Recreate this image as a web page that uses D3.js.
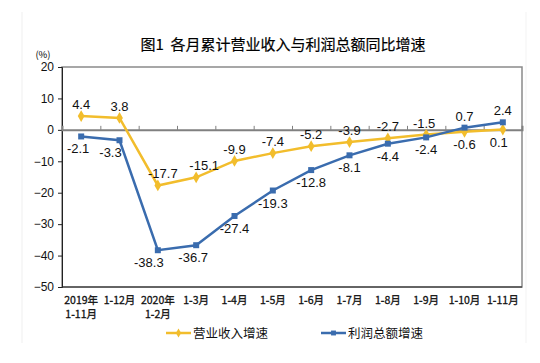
<!DOCTYPE html>
<html>
<head>
<meta charset="utf-8">
<script src="https://cdn.jsdelivr.net/npm/d3@7"></script>
<style>
  body { margin: 0; background: #fff; }
  svg { display: block; }
</style>
</head>
<body>
<div id="chart"></div>
<script>
// data
const months = ["2019年\n1-11月", "1-12月", "2020年\n1-2月", "1-3月", "1-4月", "1-5月",
  "1-6月", "1-7月", "1-8月", "1-9月", "1-10月", "1-11月"];
const revenue = [4.4, 3.8, -17.7, -15.1, -9.9, -7.4, -5.2, -3.9, -2.7, -1.5, -0.6, 0.1];
const profit = [-2.1, -3.3, -38.3, -36.7, -27.4, -19.3, -12.8, -8.1, -4.4, -2.4, 0.7, 2.4];
const yTicks = [20, 10, 0, -10, -20, -30, -40, -50];
// where the value labels go (1 = above the point, -1 = below) and small sideways nudges
const revenueSide = [1, 1, 1, 1, 1, 1, 1, 1, 1, 1, -1, -1];
const profitSide = [-1, -1, -1, -1, -1, -1, -1, -1, -1, -1, 1, 1];
const revenueDx = [0, 0, 5, 8, 0, 0, 0, 0, 0, -2, 0, -4];
const profitDx = [-3, -9, -9, -3, 0, 0, 0, 0, 0, 0, 0, 0];

const W = 540, H = 363;
const margin = { top: 67, right: 18, bottom: 76, left: 62 };
const width = W - margin.left - margin.right,
  height = H - margin.top - margin.bottom;

const yellow = "#f2bd2c", blue = "#3a6cae";

const svgRoot = d3.select("#chart").append("svg")
  .attr("width", W).attr("height", H);

// faint page edges seen in the picture
svgRoot.append("line").attr("x1", 22).attr("x2", 22).attr("y1", 12).attr("y2", 343)
  .attr("stroke", "#efefef");
svgRoot.append("line").attr("x1", 526).attr("x2", 526).attr("y1", 12).attr("y2", 343)
  .attr("stroke", "#f3f3f3");

svgRoot.append("text")
  .attr("x", 283).attr("y", 50)
  .attr("text-anchor", "middle")
  .style("font-family", "'Noto Sans CJK SC', sans-serif")
  .style("font-size", "15px").attr("fill", "#000")
  .attr("stroke", "#000").attr("stroke-width", 0.2)
  .text("图1\u00a0\u00a0各月累计营业收入与利润总额同比增速");

svgRoot.append("text")
  .attr("x", 43).attr("y", 58)
  .attr("text-anchor", "middle")
  .style("font-family", "'Noto Sans CJK SC', sans-serif")
  .style("font-size", "9.5px")
  .text("(%)");

const svg = svgRoot.append("g")
  .attr("transform", `translate(${margin.left},${margin.top})`);

const x = d3.scaleBand().domain(months).range([0, width]);
const y = d3.scaleLinear().domain([-50, 20]).range([height, 0]);
const cx = d => x(d) + x.bandwidth() / 2;

// frame
svg.append("rect")
  .attr("width", width).attr("height", height)
  .attr("fill", "none").attr("stroke", "#8a8a8a").attr("stroke-width", 1.5);

// y axis
const yAxis = svg.append("g")
  .call(d3.axisLeft(y).tickValues(yTicks).tickSize(4).tickPadding(4));
yAxis.select(".domain").attr("stroke", "#222");
yAxis.selectAll("line").attr("stroke", "#222");
yAxis.selectAll("text")
  .style("font-family", "'Liberation Sans', Arial, sans-serif")
  .style("font-size", "12px").attr("fill", "#111");

// bottom edge
svg.append("line").attr("x1", 0).attr("x2", width)
  .attr("y1", height).attr("y2", height).attr("stroke", "#222");

// zero line with small ticks between categories
const bounds = d3.scaleLinear().domain([0, months.length]).range([0, width]);
const zeroAxis = svg.append("g")
  .attr("transform", `translate(0,${y(0)})`)
  .call(d3.axisTop(bounds).tickValues(d3.range(1, months.length)).tickSize(4).tickFormat(""));
zeroAxis.select(".domain").attr("stroke", "#808080").attr("stroke-width", 2);
zeroAxis.selectAll("line").attr("stroke", "#808080");

// category labels
const xAxis = svg.append("g")
  .attr("transform", `translate(0,${height})`)
  .call(d3.axisBottom(x).tickSize(0).tickFormat(""));
xAxis.select(".domain").remove();
xAxis.selectAll(".tick").each(function (d) {
  const t = d3.select(this).append("text")
    .attr("fill", "#111")
    .attr("text-anchor", "middle")
    .style("font-family", "'Noto Sans CJK SC', sans-serif")
    .style("font-size", "10.5px")
    .attr("stroke", "#111").attr("stroke-width", 0.3);
  d.split("\n").forEach((s, i) => {
    t.append("tspan").attr("x", 0).attr("y", 17 + i * 13.5).text(s);
  });
});

function drawSeries(vals, color, shape, sides, dxs) {
  const line = d3.line().x((d, i) => cx(months[i])).y(d => y(d));
  svg.append("path").datum(vals)
    .attr("d", line).attr("fill", "none")
    .attr("stroke", color).attr("stroke-width", 2.5);
  svg.selectAll(null).data(vals).join("path")
    .attr("transform", (d, i) => `translate(${cx(months[i])},${y(d)})`)
    .attr("d", d3.symbol().type(shape).size(shape === d3.symbolDiamond ? 40 : 36))
    .attr("fill", color);
  svg.selectAll(null).data(vals).join("text")
    .attr("x", (d, i) => cx(months[i]) + dxs[i])
    .attr("y", (d, i) => y(d) + (sides[i] > 0 ? -7 : 17))
    .attr("text-anchor", "middle")
    .style("font-family", "'Liberation Sans', Arial, sans-serif")
    .style("font-size", "13px").attr("fill", "#111")
    .text(d => d.toFixed(1));
}

drawSeries(revenue, yellow, d3.symbolDiamond, revenueSide, revenueDx);
drawSeries(profit, blue, d3.symbolSquare, profitSide, profitDx);

// legend
const legend = svgRoot.append("g").attr("transform", "translate(0,333)");
[["营业收入增速", yellow, d3.symbolDiamond, 166], ["利润总额增速", blue, d3.symbolSquare, 321]]
  .forEach(([name, color, shape, lx]) => {
    legend.append("line").attr("x1", lx).attr("x2", lx + 25)
      .attr("stroke", color).attr("stroke-width", 2.5);
    legend.append("path").attr("transform", `translate(${lx + 12.5},0)`)
      .attr("d", d3.symbol().type(shape).size(24)).attr("fill", color);
    legend.append("text").attr("x", lx + 27).attr("y", 5)
      .style("font-family", "'Noto Sans CJK SC', sans-serif")
      .style("font-size", "12.5px").attr("fill", "#111")
      .text(name);
  });
</script>
</body>
</html>
